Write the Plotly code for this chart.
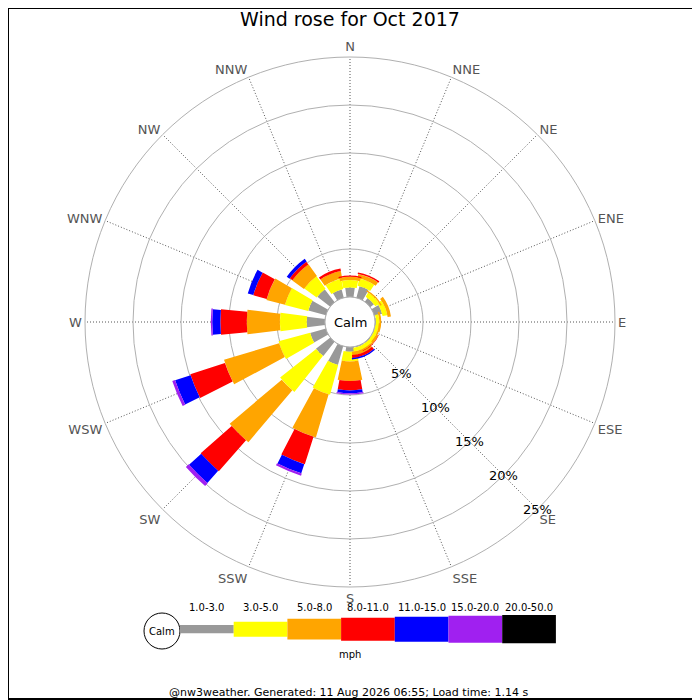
import math
import plotly.graph_objects as go

# wind rose for Oct 2017, % of time per direction and speed class
directions = ["N", "NNE", "NE", "ENE", "E", "ESE", "SE", "SSE",
              "S", "SSW", "SW", "WSW", "W", "WNW", "NW", "NNW"]
dir_deg = [i * 22.5 for i in range(16)]

speed_classes = ["1.0-3.0", "3.0-5.0", "5.0-8.0", "8.0-11.0",
                 "11.0-15.0", "15.0-20.0", "20.0-50.0"]
colors = ["#999999", "#ffff00", "#ffa500", "#ff0000",
          "#0000ff", "#a020f0", "#000000"]

pct_1_3 = [1.0, 1.25, 0.5, 0.85, 0.1, 0.05, 0.1, 0.1,
           0.5, 2.05, 1.9, 1.7, 1.9, 1.9, 1.7, 0.9]
pct_3_5 = [0.77, 0.78, 0.5, 0.5, 0.35, 0.35, 0.4, 0.4,
           1.0, 3.2, 4.8, 3.4, 2.8, 2.5, 1.6, 1.1]
pct_5_8 = [0.34, 0.42, 0.15, 0.35, 0.2, 0.15, 0.15, 0.35,
           2.05, 4.7, 7.1, 6.0, 3.45, 2.0, 1.5, 0.8]
pct_8_11 = [0.13, 0.17, 0.0, 0.0, 0.0, 0.0, 0.05, 0.3,
            0.97, 3.0, 4.3, 3.8, 2.75, 1.45, 0.35, 0.25]
pct_11_15 = [0.0, 0.0, 0.0, 0.0, 0.0, 0.0, 0.0, 0.15,
             0.3, 1.0, 1.7, 1.7, 0.85, 0.6, 0.35, 0.0]
pct_15_20 = [0.0, 0.0, 0.0, 0.0, 0.0, 0.0, 0.0, 0.0,
             0.12, 0.25, 0.4, 0.3, 0.15, 0.0, 0.0, 0.0]
pct_20_50 = [0.0] * 16

series = [pct_1_3, pct_3_5, pct_5_8, pct_8_11, pct_11_15, pct_15_20, pct_20_50]

ring_vals = [5, 10, 15, 20, 25]
ring_text = ["5%", "10%", "15%", "20%", "25%"]

# drawing sizes (px); the page body adds an 8px margin, so shift by it
OFF = 8
W = H = 700
R_OUT = 265
HOLE_PX = 25
PX_PER_PCT = (R_OUT - HOLE_PX) / ring_vals[-1]
bar_px = [8.3, 15, 20.7, 23, 25, 27, 28.3]
CX, CY = 350 - OFF, 322 - OFF


def px(x, y):
    return x / W, 1 - y / H


fig = go.Figure()

cum = [0.0] * 16
for name, vals, col, wpx in zip(speed_classes, series, colors, bar_px):
    widths = []
    for c, v in zip(cum, vals):
        mid = HOLE_PX + (c + v / 2) * PX_PER_PCT
        widths.append(math.degrees(wpx / mid))
    fig.add_trace(go.Barpolar(
        r=vals, theta=dir_deg, base=cum, width=widths,
        marker=dict(color=col, line=dict(width=0)),
        name=name, showlegend=False,
    ))
    cum = [c + v for c, v in zip(cum, vals)]

# outline of calm circle
fig.add_trace(go.Scatterpolar(
    r=[0] * 73, theta=[i * 5 for i in range(73)], mode="lines",
    line=dict(color="#aaaaaa", width=1), hoverinfo="skip", showlegend=False,
))

x0d, y1d = px(CX - R_OUT, CY - R_OUT)
x1d, y0d = px(CX + R_OUT, CY + R_OUT)

fig.update_layout(
    width=W, height=H,
    margin=dict(l=0, r=0, t=0, b=0),
    paper_bgcolor="white",
    font=dict(family="DejaVu Sans", color="black"),
    title=dict(text="Wind rose for Oct 2017", x=CX / W, xanchor="center",
               y=1 - (19 - OFF) / H, yanchor="middle", font=dict(size=19)),
    polar=dict(
        domain=dict(x=[x0d, x1d], y=[y0d, y1d]),
        hole=HOLE_PX / R_OUT,
        bgcolor="white",
        barmode="overlay",
        radialaxis=dict(range=[0, ring_vals[-1]], tickvals=ring_vals,
                        showticklabels=False, angle=-45, showline=False,
                        ticks="", gridcolor="#b0b0b0", gridwidth=1),
        angularaxis=dict(rotation=90, direction="clockwise",
                         tickmode="array", tickvals=dir_deg, ticktext=directions,
                         ticks="", showline=True, linecolor="#b0b0b0",
                         gridcolor="#555555", griddash="1px,2px", gridwidth=1,
                         tickfont=dict(size=13, color="#555555")),
    ),
)


def note(x, y, text, size):
    ax, ay = px(x, y)
    fig.add_annotation(x=ax, y=ay, xref="paper", yref="paper", text=text,
                       showarrow=False, xanchor="center", yanchor="middle",
                       font=dict(size=size))


note(CX, CY, "Calm", 13)

# ring labels along the SE line
for v, t in zip(ring_vals, ring_text):
    r = HOLE_PX + v * PX_PER_PCT
    note(CX + r * math.cos(math.radians(45)), CY + r * math.sin(math.radians(45)), t, 13)

# speed legend under the rose
LX0, LSEG, LY = 180 - OFF, 53.7, 629.2 - OFF
shapes = []
cx0, cy0 = px(162 - OFF - 18, 631 - OFF - 18)
cx1, cy1 = px(162 - OFF + 18, 631 - OFF + 18)
shapes.append(dict(type="circle", xref="paper", yref="paper",
                   x0=cx0, x1=cx1, y0=cy1, y1=cy0,
                   line=dict(color="black", width=1), fillcolor="white"))
for i, (lab, col, wpx) in enumerate(zip(speed_classes, colors, bar_px)):
    x0 = LX0 + i * LSEG
    sx0, sy1 = px(x0, LY - wpx / 2)
    sx1, sy0 = px(x0 + LSEG, LY + wpx / 2)
    shapes.append(dict(type="rect", xref="paper", yref="paper",
                       x0=sx0, x1=sx1, y0=sy0, y1=sy1,
                       line=dict(width=0), fillcolor=col))
    note(x0 + LSEG / 2, 607.5 - OFF, lab, 10)
note(162 - OFF, 631 - OFF, "Calm", 10)
note(350 - OFF, 654 - OFF, "mph", 10)
note(348 - OFF, 692.5 - OFF, "@nw3weather. Generated: 11 Aug 2026 06:55; Load time: 1.14 s", 11)

# frame round the picture
fx1, fy0 = px(W - OFF - 1, H - OFF - 1)
shapes.append(dict(type="rect", xref="paper", yref="paper", x0=0, x1=fx1, y0=fy0, y1=1,
                   line=dict(color="black", width=2)))
fig.update_layout(shapes=shapes)

fig.write_html("out.html")
